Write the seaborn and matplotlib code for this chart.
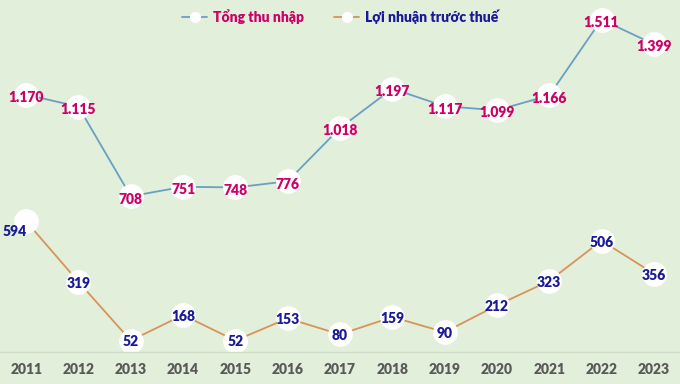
import matplotlib
matplotlib.use("Agg")
import matplotlib.pyplot as plt
import seaborn as sns
import pandas as pd
from matplotlib.lines import Line2D

years = ["2011", "2012", "2013", "2014", "2015", "2016", "2017", "2018", "2019", "2020", "2021", "2022", "2023"]
tong_thu_nhap = [1170, 1115, 708, 751, 748, 776, 1018, 1197, 1117, 1099, 1166, 1511, 1399]
loi_nhuan = [594, 319, 52, 168, 52, 153, 80, 159, 90, 212, 323, 506, 356]
series_names = ["Tổng thu nhập", "Lợi nhuận trước thuế"]

def fmt(v):
    s = f"{v:,}".replace(",", ".")
    return s

sns.set_theme(style="white")
plt.rcParams["font.family"] = ["Lato", "DejaVu Sans"]

bg = "#e2efda"
blue = "#6a9fc4"
orange = "#d9935a"
pink = "#cc0066"
navy = "#1a1a99"

fig = plt.figure(figsize=(6.8, 3.84), dpi=100, facecolor=bg)
ax = fig.add_axes([0, (384 - 352) / 384, 1, 352 / 384])
ax.set_facecolor(bg)

df = pd.DataFrame({
    "year": years * 2,
    "value": tong_thu_nhap + loi_nhuan,
    "series": [series_names[0]] * len(years) + [series_names[1]] * len(years),
})

sns.lineplot(data=df, x="year", y="value", hue="series", palette=[blue, orange],
             marker="o", markersize=17, markerfacecolor="white", markeredgecolor="white",
             linewidth=1.3, legend=False, ax=ax, sort=False)

for i, v in enumerate(tong_thu_nhap):
    ax.annotate(fmt(v), (i, v), xytext=(0, -2), textcoords="offset points",
                ha="center", va="center", fontsize=10, fontweight="heavy", color=pink)
for i, v in enumerate(loi_nhuan):
    off = (-8, -7) if i == 0 else (0, -1)
    ax.annotate(fmt(v), (i, v), xytext=off, textcoords="offset points",
                ha="center", va="center", fontsize=10, fontweight="heavy", color=navy)

ax.set_xlim(-0.5, len(years) - 0.5)
ax.set_ylim(0, 1600)
ax.set_yticks([])
ax.set_xlabel("")
ax.set_ylabel("")
for s in ["top", "left", "right"]:
    ax.spines[s].set_visible(False)
ax.spines["bottom"].set_color("#d0dcc8")
ax.spines["bottom"].set_linewidth(1)
ax.tick_params(axis="x", length=0, pad=8, labelsize=10, labelcolor="#595959")
for t in ax.get_xticklabels():
    t.set_fontweight("heavy")

handles = [
    Line2D([0], [0], color=blue, lw=1.3, marker="o", markersize=7,
           markerfacecolor="white", markeredgecolor="white"),
    Line2D([0], [0], color=orange, lw=1.3, marker="o", markersize=7,
           markerfacecolor="white", markeredgecolor="white"),
]
leg = fig.legend(handles, series_names, loc="upper center", bbox_to_anchor=(0.5, 1.01),
                 ncol=2, frameon=False, handlelength=1.8, handletextpad=0.4,
                 columnspacing=2.2, prop={"size": 10, "weight": "heavy"})
for t, c in zip(leg.get_texts(), [pink, navy]):
    t.set_color(c)

fig.savefig("out.png", dpi=100, facecolor=bg)
